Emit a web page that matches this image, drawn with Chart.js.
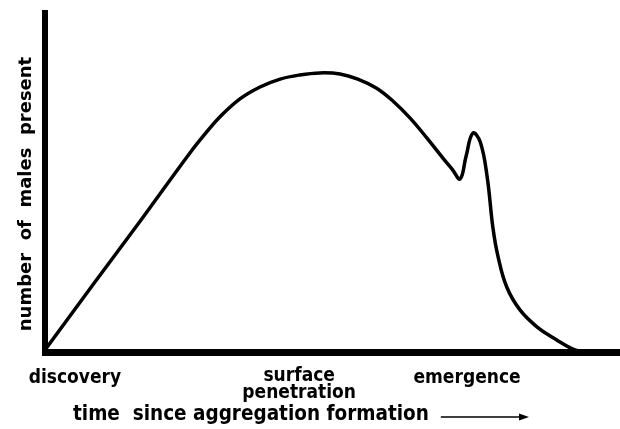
<!DOCTYPE html>
<html>
<head>
<meta charset="utf-8">
<script src="https://cdn.jsdelivr.net/npm/chart.js@4.4.0/dist/chart.umd.min.js"></script>
<style>
  body { margin: 0; background: #fff; }
  canvas { display: block; }
</style>
</head>
<body>
<canvas id="malesChart" width="620" height="429"></canvas>
<script>
// time since aggregation formation (arbitrary units, 0-100)
const timeValues = [0, 8.3, 16.7, 25.2, 27.8, 30.4, 33.9, 37.4, 40.9, 44.3, 47.8, 51.3, 54.4, 57.6, 60.5, 63.5, 66.4, 69.2, 70.8, 72.2, 73.2, 74.4, 75.7, 76.9, 77.9, 78.8, 80.3, 82.6, 85.6, 89.0, 91.7, 93.4];
// number of males present (arbitrary units, 0-100)
const maleValues = [0.6, 19.6, 38.6, 58.2, 63.7, 68.7, 74.0, 77.5, 79.8, 81.0, 81.6, 81.3, 79.8, 77.2, 73.4, 68.4, 62.6, 56.7, 53.5, 50.6, 57.0, 64.0, 61.4, 51.2, 36.3, 27.8, 19.0, 12.3, 7.3, 3.5, 0.9, 0];

// stage labels along the time axis
const stageLabels = [['discovery'], ['surface', 'penetration'], ['emergence']];
const stageTimes = [5.2, 44.2, 73.4];

const xTitle = 'time  since aggregation formation';
const yTitle = 'number  of  males  present';

const ctx = document.getElementById('malesChart');

// draws the heavy axes, the stage labels and the axis titles
const annotate = {
  id: 'annotate',
  beforeDatasetsDraw(chart) {
    const c = chart.ctx;
    const a = chart.chartArea;
    c.save();
    c.fillStyle = '#000';
    c.fillRect(a.left - 3, a.top, 6, a.bottom - a.top + 4);
    c.fillRect(a.left - 3, a.bottom - 3, a.right - a.left + 3, 7);
    c.restore();
  },
  afterDraw(chart) {
    const c = chart.ctx;
    const a = chart.chartArea;
    const x = chart.scales.x;
    c.save();
    c.fillStyle = '#000';
    c.font = "bold 19px 'DejaVu Sans Condensed'";
    c.textAlign = 'center';
    c.textBaseline = 'middle';
    stageLabels.forEach((lines, i) => {
      const px = x.getPixelForValue(stageTimes[i]);
      const y0 = a.bottom + (lines.length > 1 ? 24 : 26);
      lines.forEach((t, j) => c.fillText(t, px, y0 + j * 17));
    });

    // x title with arrow
    c.textAlign = 'left';
    c.font = "bold 20.5px 'DejaVu Sans Condensed'";
    c.fillText(xTitle, 73, 415);
    const w = c.measureText(xTitle).width;
    const ax = 73 + w + 12;
    c.lineWidth = 1.5;
    c.beginPath();
    c.moveTo(ax, 417);
    c.lineTo(526, 417);
    c.stroke();
    c.beginPath();
    c.moveTo(529, 417);
    c.lineTo(519, 413.5);
    c.lineTo(519, 420.5);
    c.closePath();
    c.fill();

    // y title
    c.translate(26, 194);
    c.rotate(-Math.PI / 2);
    c.textAlign = 'center';
    c.font = "bold 18px 'DejaVu Sans'";
    c.fillText(yTitle, 0, 0);
    c.restore();
  }
};

new Chart(ctx, {
  type: 'line',
  data: {
    datasets: [{
      data: timeValues.map((t, i) => ({ x: t, y: maleValues[i] })),
      borderColor: '#000',
      borderWidth: 3.5,
      pointRadius: 0,
      tension: 0.4,
      fill: false
    }]
  },
  options: {
    responsive: false,
    animation: false,
    layout: { padding: { left: 45, top: 10, right: 0, bottom: 77 } },
    scales: {
      x: { type: 'linear', min: 0, max: 100, display: false },
      y: { min: 0, max: 100, display: false }
    },
    plugins: {
      legend: { display: false },
      tooltip: { enabled: false }
    }
  },
  plugins: [annotate]
});
</script>
</body>
</html>
